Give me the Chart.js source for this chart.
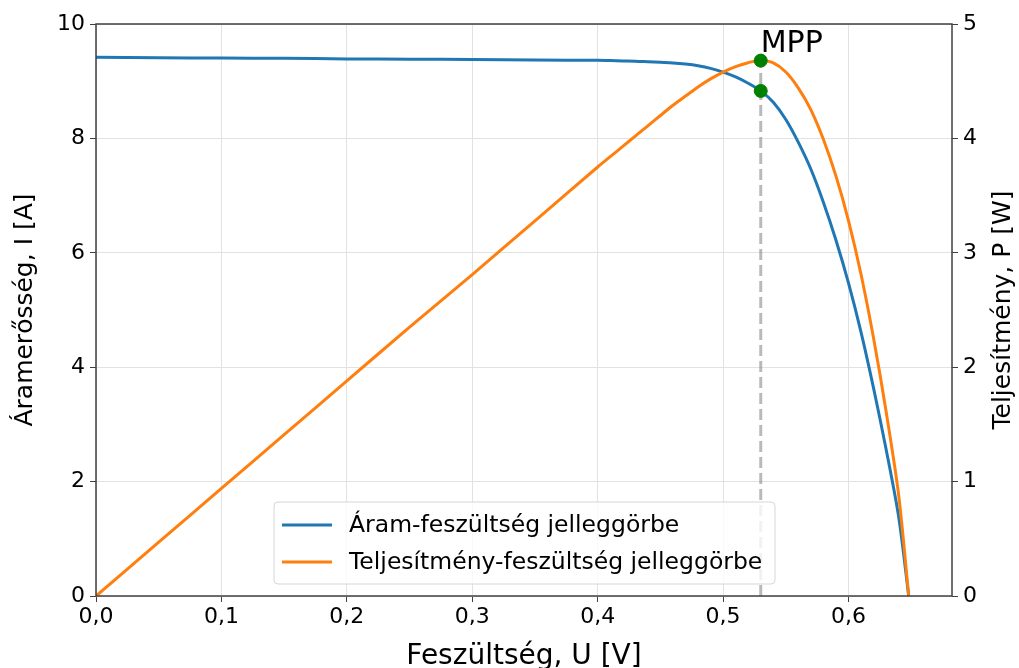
<!DOCTYPE html>
<html>
<head>
<meta charset="utf-8">
<title>I-U és P-U jelleggörbe</title>
<script src="https://cdn.jsdelivr.net/npm/chart.js@4"></script>
<style>
  html, body { margin: 0; padding: 0; background: #fff; }
</style>
</head>
<body>
<canvas id="ivChart" width="1019" height="668"></canvas>
<script>
// values
const voltage = [0, 0.05, 0.1, 0.15, 0.2, 0.25, 0.3, 0.35,
                 0.4, 0.41, 0.42, 0.43, 0.44, 0.45, 0.46, 0.47, 0.48, 0.49, 0.5,
                 0.51, 0.52, 0.53, 0.54, 0.55, 0.56, 0.57, 0.58, 0.59, 0.6,
                 0.61, 0.62, 0.63, 0.64, 0.648];
const current = [9.42, 9.41, 9.405, 9.40, 9.39, 9.385, 9.38, 9.37,
                 9.365, 9.36, 9.355, 9.35, 9.34, 9.33, 9.32, 9.30, 9.27, 9.225, 9.16,
                 9.075, 8.965, 8.83, 8.63, 8.33, 7.93, 7.46, 6.88, 6.22, 5.47,
                 4.61, 3.63, 2.56, 1.38, 0];
const power = [0, 0.47, 0.94, 1.41, 1.88, 2.35, 2.81, 3.28,
               3.75, 3.84, 3.93, 4.02, 4.11, 4.20, 4.29, 4.37, 4.45, 4.52, 4.58,
               4.628, 4.662, 4.68, 4.66, 4.58, 4.44, 4.25, 3.99, 3.67, 3.28,
               2.81, 2.25, 1.61, 0.88, 0];

const mppVoltage = 0.53;
const mppCurrent = 8.83;
const mppPower = 4.68;

const labelIU = "Áram-feszültség jelleggörbe";
const labelPU = "Teljesítmény-feszültség jelleggörbe";
const rightTitle = "Teljesítmény, P [W]";

const FONT = '"DejaVu Sans", sans-serif';

const toPoints = (xs, ys) => xs.map((x, i) => ({ x: x, y: ys[i] }));

// frame round the plot area, MPP label and right axis title
const framePlugin = {
    id: "frame",
    afterDatasetsDraw(chart) {
        const { ctx, chartArea: a } = chart;
        ctx.save();
        ctx.strokeStyle = "#404040";
        ctx.lineWidth = 1.5;
        ctx.strokeRect(a.left, a.top, a.right - a.left, a.bottom - a.top);

        // MPP label above the power marker
        const px = chart.scales.x.getPixelForValue(mppVoltage);
        const py = chart.scales.y2.getPixelForValue(mppPower);
        ctx.fillStyle = "#000";
        ctx.font = "30px " + FONT;
        ctx.textAlign = "left";
        ctx.textBaseline = "alphabetic";
        ctx.fillText("MPP", px, py - 9);

        // right title reads bottom to top like the left one
        ctx.translate(1003, (a.top + a.bottom) / 2);
        ctx.rotate(-Math.PI / 2);
        ctx.font = "25px " + FONT;
        ctx.textAlign = "center";
        ctx.textBaseline = "middle";
        ctx.fillText(rightTitle, 0, 0);
        ctx.restore();
    }
};

// legend box inside the plot, lower middle
const legendPlugin = {
    id: "innerLegend",
    afterDraw(chart) {
        const ctx = chart.ctx;
        const items = chart.data.datasets.filter(d => d.label);
        const x0 = 274, y0 = 502, w = 501, h = 82;
        ctx.save();
        ctx.beginPath();
        ctx.roundRect(x0, y0, w, h, 4);
        ctx.fillStyle = "rgba(255,255,255,0.8)";
        ctx.fill();
        ctx.strokeStyle = "#d6d6d6";
        ctx.lineWidth = 1;
        ctx.stroke();
        ctx.font = "23.5px " + FONT;
        ctx.textBaseline = "middle";
        ctx.fillStyle = "#000";
        items.forEach((d, i) => {
            const y = 525 + i * 37;
            ctx.beginPath();
            ctx.moveTo(282, y);
            ctx.lineTo(332, y);
            ctx.strokeStyle = d.borderColor;
            ctx.lineWidth = 3;
            ctx.stroke();
            ctx.fillText(d.label, 349, y + 1);
        });
        ctx.restore();
    }
};

const tickFont = { family: FONT, size: 22 };
const gridColor = "#e2e2e2";
const tickColor = "#404040";

const ctx = document.getElementById("ivChart").getContext("2d");
const ivChart = new Chart(ctx, {
    type: "line",
    data: {
        datasets: [
            {
                label: labelIU,
                data: toPoints(voltage, current),
                yAxisID: "y",
                borderColor: "#1f77b4",
                borderWidth: 3,
                pointRadius: 0,
                tension: 0.3,
                order: 2
            },
            {
                label: labelPU,
                data: toPoints(voltage, power),
                yAxisID: "y2",
                borderColor: "#ff7f0e",
                borderWidth: 3,
                pointRadius: 0,
                tension: 0.3,
                order: 1
            },
            {
                type: "scatter",
                data: [{ x: mppVoltage, y: mppCurrent }],
                yAxisID: "y",
                backgroundColor: "#008000",
                borderColor: "#008000",
                pointRadius: 6.5,
                showLine: false,
                order: 0
            },
            {
                type: "scatter",
                data: [{ x: mppVoltage, y: mppPower }],
                yAxisID: "y2",
                backgroundColor: "#008000",
                borderColor: "#008000",
                pointRadius: 6.5,
                showLine: false,
                order: 0
            },
            { // dashed marker line at the MPP voltage
                data: [{ x: mppVoltage, y: 0 }, { x: mppVoltage, y: mppPower }],
                yAxisID: "y2",
                borderColor: "rgba(128,128,128,0.55)",
                borderWidth: 3,
                borderDash: [11, 5],
                pointRadius: 0,
                order: 3
            }
        ]
    },
    options: {
        responsive: false,
        animation: false,
        layout: { padding: { top: 24, left: 0, right: 0, bottom: 0 } },
        plugins: {
            legend: { display: false },
            tooltip: { enabled: false }
        },
        scales: {
            x: {
                type: "linear",
                min: 0,
                max: 0.6825,
                afterFit: s => { s.height = 72; },
                afterBuildTicks: s => { s.ticks = s.ticks.filter(t => t.value <= 0.6001); },
                ticks: {
                    stepSize: 0.1,
                    includeBounds: false,
                    font: tickFont,
                    color: "#000",
                    padding: 2,
                    maxRotation: 0,
                    callback: v => v.toFixed(1).replace(".", ",")
                },
                grid: { color: gridColor, tickColor: tickColor, tickLength: 6 },
                border: { display: false },
                title: {
                    display: true,
                    text: "Feszültség, U [V]",
                    font: { family: FONT, size: 28, lineHeight: 0.8 },
                    color: "#000",
                    padding: { top: 0, bottom: 0 }
                }
            },
            y: {
                position: "left",
                min: 0,
                max: 10,
                afterFit: s => { s.width = 96; },
                ticks: { stepSize: 2, font: tickFont, color: "#000", padding: 5 },
                grid: { color: gridColor, tickColor: tickColor, tickLength: 6 },
                border: { display: false },
                title: {
                    display: true,
                    text: "Áramerősség, I [A]",
                    font: { family: FONT, size: 25, lineHeight: 1 },
                    color: "#000",
                    padding: { top: 13, bottom: 0 }
                }
            },
            y2: {
                position: "right",
                min: 0,
                max: 5,
                afterFit: s => { s.width = 67; },
                ticks: { stepSize: 1, font: tickFont, color: "#000", padding: 5 },
                grid: { drawOnChartArea: false, tickColor: tickColor, tickLength: 6 },
                border: { display: false },
                title: { display: false }
            }
        }
    },
    plugins: [framePlugin, legendPlugin]
});
</script>
</body>
</html>
